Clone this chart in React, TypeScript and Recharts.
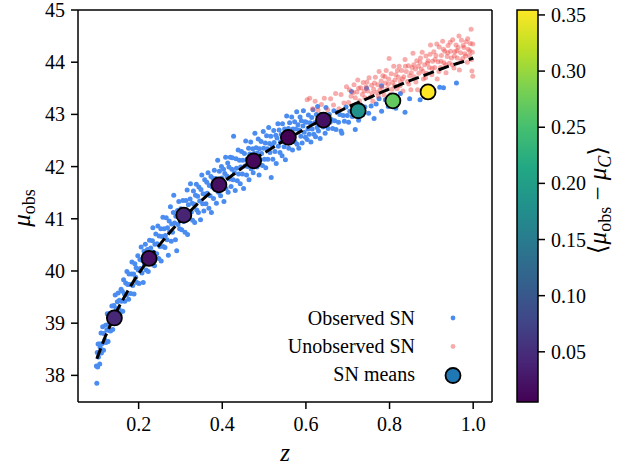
import React from "react";
import { ComposedChart, ReferenceLine, Scatter, XAxis, YAxis } from "recharts";

const FONT = "'Liberation Serif', 'DejaVu Serif', serif";

// redshift / distance modulus pairs
const observedSN: [number, number][] = [
  [0.099,38.18],[0.100,37.85],[0.101,38.44],[0.102,38.16],[0.103,38.60],[0.104,38.35],[0.106,38.60],[0.107,38.22],[0.108,38.54],[0.110,38.81],[0.111,38.43],[0.113,38.61],[0.114,38.93],[0.116,38.48],[0.117,38.80],[0.119,38.68],
  [0.121,38.96],[0.122,38.63],[0.124,38.87],[0.125,39.18],[0.127,38.65],[0.128,38.98],[0.130,38.86],[0.131,39.19],[0.133,38.85],[0.135,39.16],[0.136,39.33],[0.138,38.88],[0.139,39.12],
  [0.141,39.34],[0.143,39.05],[0.144,39.54],[0.146,39.28],[0.148,39.03],[0.149,39.41],[0.151,39.58],[0.153,39.27],[0.154,39.44],[0.156,39.20],[0.158,39.65],[0.159,39.42],
  [0.161,39.61],[0.162,39.23],[0.164,39.83],[0.166,39.56],[0.167,39.42],[0.169,39.77],[0.171,39.54],[0.172,39.99],[0.174,39.74],[0.176,39.46],[0.177,39.94],[0.179,39.74],
  [0.181,39.57],[0.183,39.94],[0.184,40.17],[0.186,39.72],[0.188,39.94],[0.189,39.56],[0.191,40.14],[0.193,39.88],[0.194,40.06],[0.196,39.78],[0.198,40.29],[0.199,40.02],
  [0.201,39.76],[0.203,40.22],[0.204,40.05],[0.206,40.46],[0.208,39.96],[0.209,40.20],[0.211,39.78],[0.213,40.38],[0.214,40.13],[0.216,40.51],[0.218,40.02],[0.219,40.27],
  [0.221,40.41],[0.223,39.99],[0.224,40.28],[0.226,40.59],[0.228,40.22],[0.229,40.44],[0.231,40.14],[0.233,40.58],[0.234,40.83],[0.236,40.36],[0.238,40.10],[0.239,40.51],
  [0.241,40.71],[0.243,40.33],[0.244,40.52],[0.246,40.86],[0.248,40.24],[0.249,40.67],[0.251,40.47],[0.253,40.81],[0.254,40.19],[0.256,40.66],[0.258,41.03],[0.259,40.47],
  [0.261,40.81],[0.263,40.45],[0.264,40.68],[0.266,41.02],[0.268,40.60],[0.269,40.83],[0.271,40.30],[0.273,40.96],[0.274,40.75],[0.276,41.23],[0.278,40.57],[0.279,40.90],
  [0.281,40.74],[0.283,41.12],[0.284,41.45],[0.286,40.92],[0.288,40.60],[0.289,41.05],[0.291,40.39],[0.293,41.16],[0.294,40.89],[0.296,41.33],[0.298,40.81],[0.299,41.06],
  [0.301,41.19],[0.303,40.79],[0.304,41.05],[0.306,41.35],[0.308,40.95],[0.309,41.18],[0.311,40.74],[0.313,41.35],[0.314,41.08],[0.316,41.55],[0.317,40.70],[0.319,41.27],
  [0.321,41.01],[0.323,41.38],[0.324,41.67],[0.326,41.13],[0.328,41.30],[0.329,40.97],[0.331,41.53],[0.333,41.28],[0.334,40.93],[0.336,41.45],[0.338,41.66],[0.339,41.17],
  [0.341,41.43],[0.343,41.12],[0.344,41.61],[0.346,41.34],[0.348,40.98],[0.349,41.56],[0.351,41.84],[0.353,41.29],[0.354,41.48],[0.356,41.15],[0.358,41.75],[0.359,41.47],
  [0.361,41.29],[0.363,41.70],[0.364,41.49],[0.366,41.88],[0.368,41.20],[0.369,41.64],[0.371,41.44],[0.373,41.81],[0.374,41.12],[0.376,41.61],[0.378,41.77],[0.379,41.39],
  [0.381,41.93],[0.383,41.56],[0.384,41.77],[0.386,41.30],[0.388,41.73],[0.389,42.12],[0.391,41.51],[0.393,41.91],[0.394,41.69],[0.396,41.44],[0.398,42.00],[0.399,41.78],
  [0.401,41.62],[0.403,41.95],[0.404,41.33],[0.406,41.87],[0.408,42.18],[0.409,41.58],[0.411,41.82],[0.413,42.07],[0.414,41.51],[0.416,41.99],[0.418,41.76],[0.419,42.18],
  [0.421,41.62],[0.423,41.95],[0.424,42.17],[0.426,41.75],[0.427,42.58],[0.429,41.88],[0.431,41.54],[0.433,42.15],[0.434,41.97],[0.436,41.73],[0.438,42.32],[0.439,41.86],
  [0.441,42.12],[0.443,41.67],[0.444,41.99],[0.446,42.29],[0.448,41.86],[0.449,42.12],[0.451,41.58],[0.453,42.25],[0.454,42.01],[0.456,42.49],[0.458,41.84],[0.459,42.14],
  [0.461,42.00],[0.463,42.35],[0.464,41.75],[0.466,42.24],[0.468,42.47],[0.469,41.96],[0.471,42.17],[0.473,42.34],[0.474,41.88],[0.476,42.25],[0.478,42.64],[0.479,42.13],
  [0.481,42.36],[0.483,41.99],[0.484,42.26],[0.486,42.53],[0.488,41.84],[0.489,42.34],[0.491,42.13],[0.493,42.48],[0.494,42.25],[0.496,42.02],[0.498,42.67],[0.499,42.35],
  [0.501,42.14],[0.503,42.45],[0.504,41.98],[0.506,42.59],[0.508,42.34],[0.509,42.14],[0.511,42.75],[0.513,42.44],[0.514,42.27],[0.516,42.58],[0.517,41.79],[0.519,42.41],
  [0.521,42.14],[0.523,42.69],[0.524,42.46],[0.526,42.29],[0.528,42.60],[0.529,42.06],[0.531,42.55],[0.533,42.82],[0.534,42.39],[0.536,42.70],[0.538,42.27],[0.539,42.47],
  [0.541,42.62],[0.543,42.21],[0.544,42.82],[0.546,42.55],[0.548,42.38],[0.549,42.72],[0.551,42.13],[0.553,42.62],[0.554,42.97],[0.556,42.48],[0.558,42.73],[0.559,42.35],
  [0.561,42.84],[0.563,42.47],[0.564,42.62],[0.566,42.95],[0.568,42.32],[0.569,42.72],[0.571,42.57],[0.573,42.86],[0.574,42.47],[0.576,42.72],[0.578,43.05],[0.579,42.43],
  [0.581,42.80],[0.583,42.35],[0.584,42.70],[0.586,42.95],[0.588,42.58],[0.589,42.88],[0.591,42.45],[0.593,42.78],[0.594,43.07],[0.596,42.66],[0.598,42.86],[0.599,42.56],
  [0.601,42.85],[0.603,42.52],[0.605,42.72],[0.606,42.99],[0.608,42.62],[0.610,42.84],[0.612,42.47],[0.614,42.94],[0.615,42.72],[0.617,43.09],[0.619,42.62],
  [0.621,42.84],[0.623,42.57],[0.625,43.00],[0.627,42.75],[0.628,43.15],[0.630,42.68],[0.632,42.93],[0.634,42.54],[0.636,43.00],[0.638,42.83],
  [0.641,42.76],[0.643,42.99],[0.646,42.64],[0.648,43.13],[0.651,42.88],[0.653,42.73],[0.656,43.00],[0.658,42.85],
  [0.661,42.90],[0.664,42.73],[0.667,43.07],[0.669,42.88],[0.672,42.71],[0.675,43.04],[0.678,42.85],[0.681,43.00],[0.684,42.68],[0.686,42.64],[0.689,42.98],[0.692,42.87],[0.696,43.14],[0.699,42.98],
  [0.702,42.85],[0.705,43.06],[0.709,43.44],[0.711,42.96],[0.714,43.15],[0.718,42.71],[0.722,43.05],[0.726,42.89],[0.731,43.17],[0.736,43.00],[0.741,43.14],[0.745,43.50],[0.750,43.02],[0.756,43.16],
  [0.763,42.92],[0.768,43.20],[0.775,43.30],[0.781,43.06],[0.781,43.55],[0.790,43.28],[0.797,43.15],[0.805,43.35],[0.815,43.12],[0.826,43.40],[0.837,43.04],[0.848,43.30],[0.873,43.28],[0.895,43.50],[0.920,43.52],[0.929,43.51],[0.960,43.60],
];

const unobservedSN: [number, number][] = [
  [0.603,43.28],[0.609,43.31],[0.616,43.11],[0.622,43.25],[0.629,43.08],[0.637,43.19],[0.644,43.31],[0.652,43.09],[0.659,43.30],[0.666,43.18],[0.671,43.40],[0.679,43.11],[0.684,43.38],[0.691,43.22],[0.697,43.53],
  [0.702,43.23],[0.704,43.47],[0.708,43.35],[0.711,43.14],[0.715,43.57],[0.718,43.32],[0.722,43.43],[0.724,43.66],[0.728,43.26],[0.731,43.51],[0.735,43.38],[0.737,43.61],[0.741,43.32],[0.744,43.53],[0.748,43.45],
  [0.751,43.70],[0.754,43.33],[0.757,43.56],[0.760,43.25],[0.762,43.48],[0.766,43.71],[0.769,43.42],[0.772,43.57],[0.775,43.82],[0.777,43.47],[0.780,43.64],[0.784,43.74],[0.787,43.37],[0.790,43.60],[0.792,43.84],
  [0.795,43.49],[0.798,43.68],[0.799,44.07],
  [0.802,43.38],[0.804,43.78],[0.807,43.61],[0.810,43.92],[0.812,43.55],[0.815,43.76],[0.818,43.49],[0.821,43.71],[0.823,43.92],[0.826,43.63],[0.829,43.84],[0.832,43.45],[0.834,43.72],[0.837,44.05],[0.840,43.82],
  [0.843,43.63],[0.845,43.93],[0.848,43.74],[0.851,43.47],[0.854,43.90],[0.856,44.17],[0.859,43.72],[0.862,43.87],[0.865,44.03],[0.867,43.47],[0.870,43.79],[0.873,44.00],[0.876,43.87],[0.878,44.19],[0.881,43.68],
  [0.884,43.95],[0.887,44.12],[0.889,43.79],[0.892,44.03],[0.895,43.90],[0.898,44.33],
  [0.901,43.76],[0.903,44.02],[0.906,44.20],[0.908,43.90],[0.911,44.13],[0.914,43.68],[0.916,44.01],[0.919,44.29],[0.922,43.90],[0.924,44.13],[0.927,44.40],[0.930,43.99],[0.932,44.21],[0.935,43.80],[0.938,44.11],
  [0.940,44.32],[0.943,43.98],[0.946,44.21],[0.948,44.08],[0.951,44.43],[0.954,43.89],[0.956,44.20],[0.959,44.33],[0.962,44.08],[0.964,44.28],[0.967,43.85],[0.970,44.18],[0.972,44.42],[0.975,44.07],[0.978,44.28],
  [0.980,44.16],[0.983,44.39],[0.986,44.00],[0.988,44.25],[0.991,44.13],[0.993,44.36],[0.995,44.63],[0.997,43.83],[0.998,44.19],[0.999,43.73],
  [0.713,43.42],[0.726,43.50],[0.739,43.45],[0.746,43.62],[0.758,43.40],[0.764,43.60],[0.773,43.35],[0.782,43.52],[0.789,43.72],[0.797,43.58],[0.806,43.48],[0.813,43.66],[0.819,43.84],[0.825,43.55],[0.831,43.68],
  [0.838,43.92],[0.846,43.58],[0.852,43.80],[0.858,43.95],[0.863,43.62],[0.869,43.92],[0.874,44.08],[0.880,43.82],[0.886,43.70],[0.891,43.98],[0.897,44.15],[0.902,43.88],[0.909,44.05],[0.913,44.35],[0.918,43.82],
  [0.923,44.02],[0.929,44.25],[0.934,43.95],[0.939,44.18],[0.945,44.38],[0.950,43.95],[0.955,44.12],[0.961,44.22],[0.966,44.50],[0.971,44.02],[0.976,44.32],[0.982,44.12],[0.987,44.45],[0.992,44.22],[0.996,44.05],[0.999,44.35],
];

// dashed model curve
const curveZ = [0.1, 0.11, 0.12, 0.13, 0.14, 0.15, 0.16, 0.17, 0.18, 0.19, 0.2, 0.22, 0.24, 0.26, 0.28, 0.3, 0.32, 0.34, 0.36, 0.38, 0.4, 0.42, 0.44, 0.46, 0.48, 0.5, 0.52, 0.54, 0.56, 0.58, 0.6, 0.62, 0.64, 0.66, 0.68, 0.7, 0.72, 0.74, 0.76, 0.78, 0.8, 0.82, 0.84, 0.86, 0.88, 0.9, 0.92, 0.94, 0.96, 0.98, 1.0];
const curveMu = [38.32, 38.53, 38.74, 38.92, 39.10, 39.27, 39.42, 39.56, 39.70, 39.83, 39.95, 40.18, 40.40, 40.60, 40.79, 40.96, 41.12, 41.28, 41.42, 41.56, 41.69, 41.81, 41.93, 42.05, 42.16, 42.26, 42.36, 42.46, 42.55, 42.64, 42.73, 42.82, 42.90, 42.98, 43.06, 43.14, 43.21, 43.28, 43.35, 43.42, 43.49, 43.55, 43.62, 43.68, 43.74, 43.80, 43.86, 43.92, 43.97, 44.02, 44.08];

// binned means and their colour value <mu_obs - mu_C>
const meanZ = [0.142, 0.225, 0.308, 0.392, 0.475, 0.558, 0.642, 0.725, 0.808, 0.892];
const meanMu = [39.10, 40.24, 41.07, 41.65, 42.11, 42.56, 42.89, 43.07, 43.26, 43.43];
const meanBias = [0.045, 0.02, 0.04, 0.02, 0.012, 0.0053, 0.02, 0.18, 0.27, 0.3544];

const xTicks = [0.2, 0.4, 0.6, 0.8, 1.0];
const yTicks = [38, 39, 40, 41, 42, 43, 44, 45];
const cbarTicks = [0.05, 0.1, 0.15, 0.2, 0.25, 0.3, 0.35];
const cMin = 0.0053;
const cMax = 0.3544;

const viridis = ["#440154", "#482475", "#414487", "#355f8d", "#2a788e", "#21918c", "#22a884", "#44bf70", "#7ad151", "#bddf26", "#fde725"];

function viridisAt(t: number) {
  const u = Math.min(1, Math.max(0, t)) * (viridis.length - 1);
  const i = Math.min(viridis.length - 2, Math.floor(u));
  const f = u - i;
  const a = viridis[i], b = viridis[i + 1];
  const ch = (s: string, k: number) => parseInt(s.slice(1 + 2 * k, 3 + 2 * k), 16);
  const mix = [0, 1, 2].map((k) => Math.round(ch(a, k) * (1 - f) + ch(b, k) * f));
  return `rgb(${mix.join(",")})`;
}

const observed = observedSN.map(([z, mu]) => ({ z, mu }));
const unobserved = unobservedSN.map(([z, mu]) => ({ z, mu }));
const curve = curveZ.map((z, i) => ({ z, mu: curveMu[i] }));
const means = meanZ.map((z, i) => ({ z, mu: meanMu[i], c: meanBias[i] }));

const PLOT = { left: 78, right: 492, top: 10, bottom: 402 };
const CB = { x: 517, w: 21 };
const BLUE = "#4a8cf0";
const RED = "#ee4444";

export default function App() {
  const cbY = (v: number) => PLOT.top + ((cMax - v) / (cMax - cMin)) * (PLOT.bottom - PLOT.top);
  const tick = { fill: "#000", fontSize: 20, fontFamily: FONT };

  return (
    <div style={{ position: "absolute", left: 0, top: 0, width: 636, height: 465, background: "#fff" }}>
      <ComposedChart
        width={636}
        height={465}
        margin={{ top: PLOT.top, right: 636 - PLOT.right, bottom: 33, left: PLOT.left - 60 }}
      >
        <XAxis
          type="number"
          dataKey="z"
          domain={[0.055, 1.045]}
          allowDataOverflow
          ticks={xTicks}
          interval={0}
          tickFormatter={(v: number) => v.toFixed(1)}
          height={30}
          tickSize={7}
          tickMargin={8}
          tick={tick}
          stroke="#000"
          strokeWidth={1.5}
        />
        <YAxis
          type="number"
          dataKey="mu"
          domain={[37.49, 45]}
          allowDataOverflow
          ticks={yTicks}
          interval={0}
          width={60}
          tickSize={7}
          tickMargin={6}
          tick={tick}
          stroke="#000"
          strokeWidth={1.5}
        />
        <ReferenceLine y={45} stroke="#000" strokeWidth={1.5} />
        <ReferenceLine x={1.045} stroke="#000" strokeWidth={1.5} />
        <Scatter
          data={observed}
          isAnimationActive={false}
          shape={(p: any) => <circle cx={p.cx} cy={p.cy} r={2.5} fill={BLUE} />}
        />
        <Scatter
          data={unobserved}
          isAnimationActive={false}
          shape={(p: any) => <circle cx={p.cx} cy={p.cy} r={2.5} fill={RED} fillOpacity={0.45} />}
        />
        <Scatter
          data={curve}
          isAnimationActive={false}
          line={{ stroke: "#000", strokeWidth: 3, strokeDasharray: "11 5" }}
          lineType="joint"
          shape={() => <g />}
        />
        <Scatter
          data={means}
          isAnimationActive={false}
          shape={(p: any) => (
            <circle
              cx={p.cx}
              cy={p.cy}
              r={7.5}
              fill={viridisAt((p.payload.c - cMin) / (cMax - cMin))}
              stroke="#000"
              strokeWidth={1.8}
            />
          )}
        />
      </ComposedChart>

      <svg width={636} height={465} style={{ position: "absolute", left: 0, top: 0, pointerEvents: "none" }}>
        <defs>
          <linearGradient id="viridis" x1="0" y1="1" x2="0" y2="0">
            {viridis.map((c, i) => (
              <stop key={c} offset={`${(i / (viridis.length - 1)) * 100}%`} stopColor={c} />
            ))}
          </linearGradient>
        </defs>

        {/* axis labels */}
        <text x={285} y={461} textAnchor="middle" fontFamily={FONT} fontSize={25} fontStyle="italic">z</text>
        <text transform="rotate(-90, 30, 208)" x={30} y={208} textAnchor="middle" fontFamily={FONT} fontSize={25}>
          <tspan fontStyle="italic">μ</tspan>
          <tspan fontSize={18} dy={5}>obs</tspan>
        </text>

        {/* legend */}
        <g fontFamily={FONT} fontSize={20} textAnchor="end">
          <text x={415} y={325}>Observed SN</text>
          <text x={415} y={353}>Unobserved SN</text>
          <text x={415} y={381}>SN means</text>
        </g>
        <circle cx={453} cy={318} r={2.4} fill={BLUE} />
        <circle cx={453} cy={346.5} r={2.4} fill={RED} fillOpacity={0.45} />
        <circle cx={453} cy={375.5} r={7.5} fill="#1f77b4" stroke="#000" strokeWidth={1.8} />

        {/* colour bar */}
        <rect x={CB.x} y={PLOT.top} width={CB.w} height={PLOT.bottom - PLOT.top} fill="url(#viridis)" stroke="#000" strokeWidth={1.5} />
        {cbarTicks.map((v) => (
          <g key={v}>
            <line x1={CB.x + CB.w} x2={CB.x + CB.w + 7} y1={cbY(v)} y2={cbY(v)} stroke="#000" strokeWidth={1.5} />
            <text x={CB.x + CB.w + 13} y={cbY(v)} dy="0.35em" fontFamily={FONT} fontSize={20}>
              {v.toFixed(2)}
            </text>
          </g>
        ))}
        <text transform="rotate(-90, 606, 200)" x={606} y={200} textAnchor="middle" fontFamily={FONT} fontSize={25}>
          <tspan>⟨</tspan>
          <tspan fontStyle="italic">μ</tspan>
          <tspan fontSize={18} dy={5}>obs</tspan>
          <tspan dy={-5}>{"\u00a0−\u00a0"}</tspan>
          <tspan fontStyle="italic">μ</tspan>
          <tspan fontSize={18} fontStyle="italic" dy={5}>C</tspan>
          <tspan dy={-5}>⟩</tspan>
        </text>
      </svg>
    </div>
  );
}
